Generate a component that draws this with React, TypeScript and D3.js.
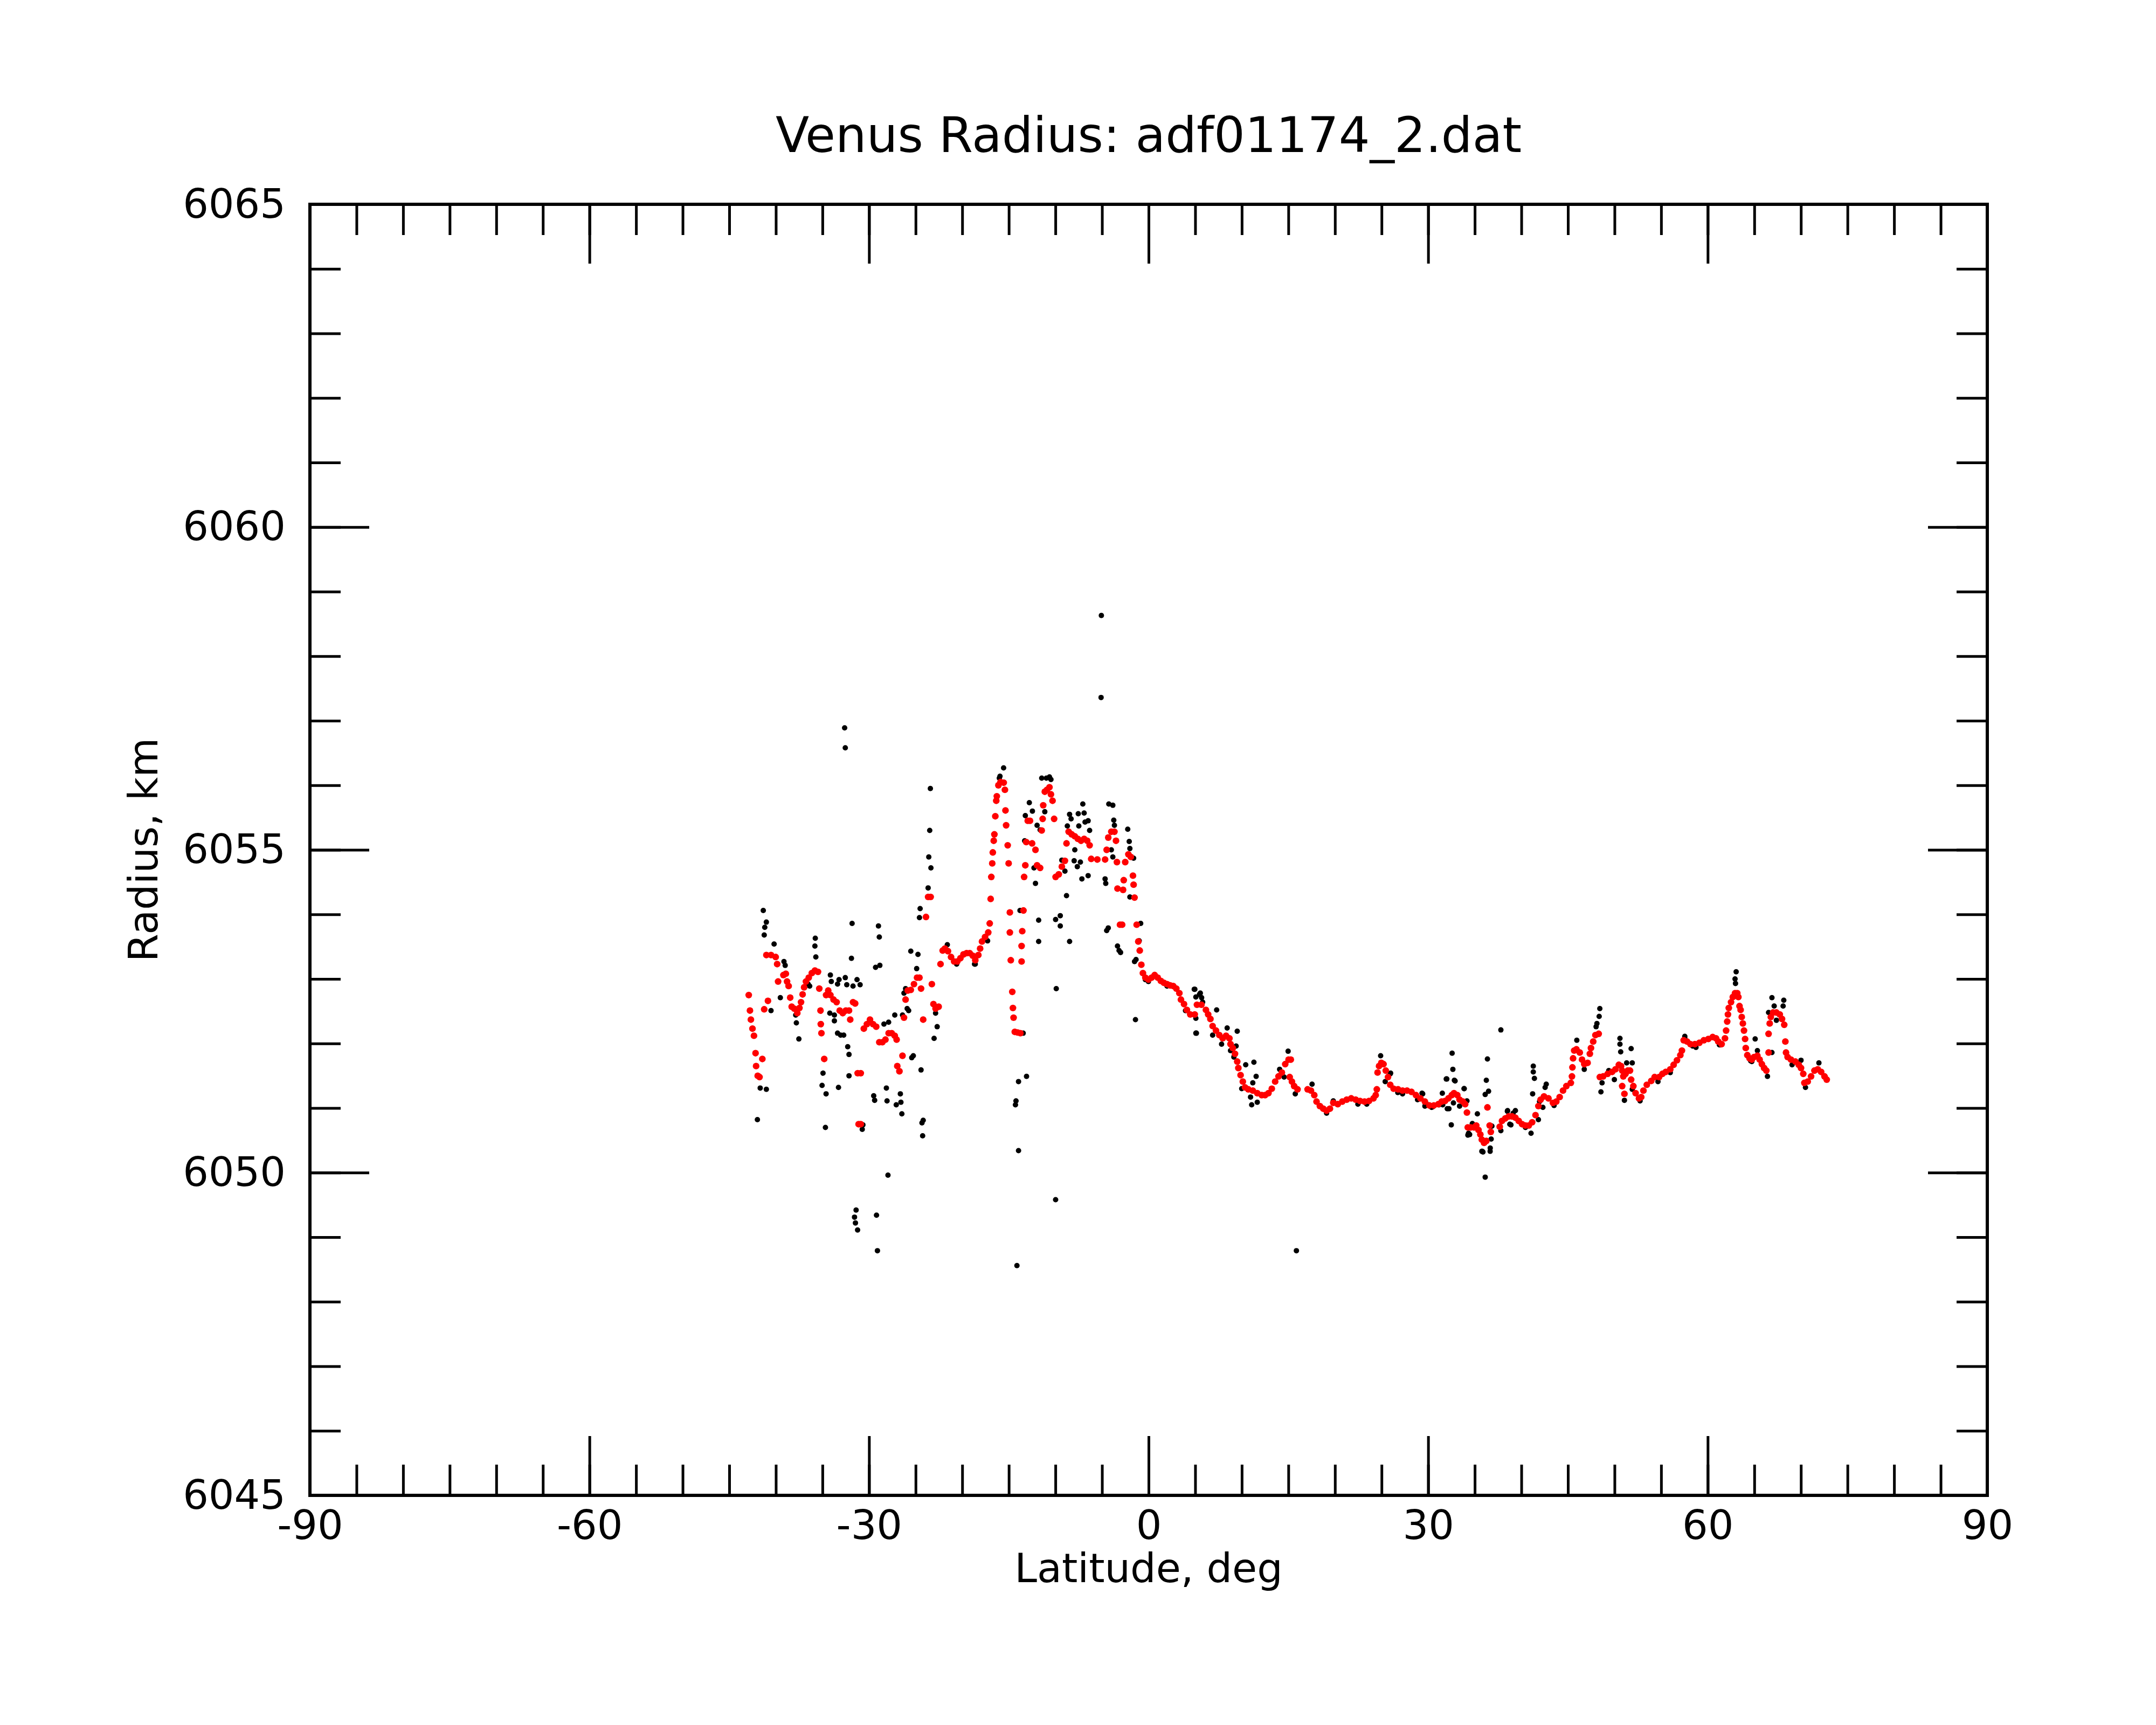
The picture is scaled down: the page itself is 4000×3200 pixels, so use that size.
import { useEffect, useRef } from "react"
import * as d3 from "d3"

// Labels and ticks
const title = "Venus Radius: adf01174_2.dat"
const xLabel = "Latitude, deg"
const yLabel = "Radius, km"
const xMajorTicks = [-90, -60, -30, 0, 30, 60, 90]
const yMajorTicks = [6045, 6050, 6055, 6060, 6065]
const xMinorTicks = d3.range(-90, 91, 5)
const yMinorTicks = d3.range(6045, 6066, 1)

// Smoothed radius (red), [latitude, radius km]
const smoothSouth: [number, number][] = [
  [-42.91, 6052.75], [-42.78, 6052.51], [-42.68, 6052.37], [-42.51, 6052.23], [-42.35, 6052.12],
  [-42.18, 6051.85], [-42.12, 6051.65], [-41.95, 6051.5], [-41.75, 6051.48], [-41.45, 6051.76],
  [-41.25, 6052.53], [-40.85, 6052.66], [-41.02, 6053.37], [-40.52, 6053.37], [-40.02, 6053.34],
  [-39.86, 6053.23], [-39.76, 6052.96], [-39.19, 6053.06], [-38.93, 6053.08], [-38.8, 6052.96],
  [-38.63, 6052.89], [-38.46, 6052.71], [-38.3, 6052.57], [-38.03, 6052.54], [-37.7, 6052.47],
  [-37.47, 6052.55], [-37.3, 6052.64], [-37.13, 6052.76], [-36.97, 6052.87], [-36.77, 6052.96],
  [-36.47, 6053.02], [-36.14, 6053.09], [-35.81, 6053.13], [-35.48, 6053.11], [-35.34, 6052.85],
  [-35.21, 6052.51], [-35.18, 6052.3], [-35.11, 6052.16], [-34.81, 6051.76], [-34.61, 6052.75],
  [-34.38, 6052.82], [-34.15, 6052.75], [-33.81, 6052.68], [-33.48, 6052.64], [-33.15, 6052.51],
  [-32.82, 6052.47], [-32.49, 6052.51], [-32.15, 6052.51], [-32.02, 6052.37], [-31.72, 6052.64],
  [-31.49, 6052.62], [-31.22, 6051.54], [-30.89, 6051.54], [-31.12, 6050.75], [-30.89, 6050.75],
  [-30.56, 6052.23], [-30.23, 6052.3], [-29.9, 6052.37], [-29.57, 6052.3], [-29.23, 6052.26],
  [-28.9, 6052.02], [-28.57, 6052.02], [-28.24, 6052.06], [-27.9, 6052.16], [-27.57, 6052.16],
  [-27.24, 6052.12], [-27.04, 6052.06], [-26.97, 6051.65], [-26.74, 6051.57], [-26.41, 6051.81],
  [-26.25, 6052.4], [-26.08, 6052.68], [-25.85, 6052.82], [-25.52, 6052.83], [-25.18, 6052.92],
  [-24.85, 6053.02], [-24.59, 6053.02], [-24.42, 6052.85], [-24.19, 6052.37], [-23.89, 6053.96],
  [-23.66, 6054.27], [-23.39, 6054.27], [-23.26, 6052.92], [-23.09, 6052.61], [-22.86, 6052.54],
  [-22.53, 6052.57], [-22.33, 6053.23], [-22.1, 6053.44], [-21.86, 6053.47], [-21.53, 6053.43],
  [-21.2, 6053.34], [-20.87, 6053.27], [-20.53, 6053.27], [-20.2, 6053.32], [-19.87, 6053.38],
  [-19.53, 6053.4], [-19.2, 6053.4], [-18.87, 6053.36], [-18.6, 6053.29], [-18.27, 6053.37],
  [-18.08, 6053.47], [-17.88, 6053.58], [-17.55, 6053.65], [-17.21, 6053.72], [-17.05, 6053.86],
]

const smoothEquator: [number, number][] = [
  [-16.95, 6054.24], [-16.88, 6054.58], [-16.78, 6054.79], [-16.72, 6054.96], [-16.62, 6055.14],
  [-16.55, 6055.24], [-16.45, 6055.52], [-16.35, 6055.76], [-16.29, 6055.83], [-16.12, 6056.0],
  [-15.89, 6056.05], [-15.55, 6056.04], [-15.42, 6055.93], [-15.36, 6055.61], [-15.29, 6055.38],
  [-15.12, 6055.07], [-15.02, 6054.79], [-14.89, 6054.03], [-14.89, 6053.72], [-14.79, 6053.29],
  [-14.63, 6052.8], [-14.56, 6052.55], [-14.49, 6052.4], [-14.36, 6052.18], [-14.06, 6052.17],
  [-13.76, 6052.16], [-13.63, 6053.27], [-13.63, 6053.51], [-13.56, 6053.74], [-13.43, 6054.06],
  [-13.36, 6054.58], [-13.23, 6054.76], [-13.13, 6055.12], [-12.97, 6055.45], [-12.73, 6055.45],
  [-12.5, 6055.1], [-12.14, 6055.0], [-11.97, 6054.76], [-11.64, 6054.72], [-11.47, 6055.3],
  [-11.37, 6055.48], [-11.31, 6055.69], [-11.14, 6055.9], [-10.91, 6055.93], [-10.64, 6055.97],
  [-10.48, 6055.86], [-10.31, 6055.76], [-10.14, 6055.48], [-9.98, 6054.58], [-9.64, 6054.62],
  [-9.31, 6054.74], [-8.98, 6054.83], [-8.81, 6055.1], [-8.58, 6055.28], [-8.25, 6055.24],
  [-7.92, 6055.21], [-7.59, 6055.17], [-7.25, 6055.14], [-6.92, 6055.17], [-6.59, 6055.14],
  [-6.33, 6055.07], [-6.16, 6054.86], [-5.5, 6054.85], [-4.67, 6054.85], [-4.5, 6055.0],
  [-4.33, 6055.19], [-4.0, 6055.28], [-3.67, 6055.28], [-3.5, 6055.14], [-3.4, 6054.81],
  [-3.34, 6054.4], [-3.07, 6053.84], [-2.84, 6053.84], [-2.74, 6054.38], [-2.67, 6054.53],
  [-2.51, 6054.81], [-2.17, 6054.93], [-1.91, 6054.89], [-1.68, 6054.6], [-1.61, 6054.46],
  [-1.51, 6054.26], [-1.28, 6053.84], [-1.11, 6053.58], [-0.95, 6053.44], [-0.78, 6053.22],
  [-0.61, 6053.09], [-0.35, 6053.02], [-0.02, 6052.99], [0.32, 6053.02], [0.65, 6053.06],
  [0.98, 6053.02], [1.31, 6052.97], [1.64, 6052.94], [1.98, 6052.92], [2.31, 6052.9],
  [2.64, 6052.89], [2.97, 6052.85], [3.3, 6052.78], [3.47, 6052.68], [3.8, 6052.61],
]

const smoothNorth: [number, number][] = [
  [4.11, 6052.52], [4.47, 6052.45], [4.95, 6052.45], [5.19, 6052.6], [5.67, 6052.6],
  [6.15, 6052.52], [6.39, 6052.45], [6.63, 6052.38], [6.87, 6052.27], [7.23, 6052.2],
  [7.59, 6052.13], [7.95, 6052.08], [8.31, 6052.12], [8.67, 6052.08], [8.79, 6051.99],
  [9.03, 6051.93], [9.27, 6051.84], [9.51, 6051.72], [9.63, 6051.62], [9.87, 6051.51],
  [10.11, 6051.41], [10.35, 6051.32], [10.7, 6051.29], [11.18, 6051.27], [11.66, 6051.23],
  [12.14, 6051.2], [12.5, 6051.2], [12.86, 6051.23], [13.22, 6051.3], [13.58, 6051.41],
  [13.94, 6051.49], [14.3, 6051.55], [14.66, 6051.68], [15.02, 6051.75], [15.26, 6051.75],
  [15.14, 6051.48], [15.38, 6051.41], [15.62, 6051.34], [15.98, 6051.29], [17.06, 6051.29],
  [17.42, 6051.27], [17.78, 6051.2], [18.02, 6051.1], [18.38, 6051.03], [18.74, 6050.99],
  [19.1, 6050.96], [19.46, 6050.99], [19.82, 6051.08], [20.3, 6051.06], [20.78, 6051.1],
  [21.26, 6051.13], [21.74, 6051.15], [22.22, 6051.13], [22.69, 6051.11], [23.17, 6051.1],
  [23.65, 6051.11], [24.13, 6051.15], [24.37, 6051.2], [24.49, 6051.29], [24.57, 6051.55],
  [24.73, 6051.65], [24.97, 6051.7], [25.21, 6051.68], [25.45, 6051.58], [25.69, 6051.48],
  [25.93, 6051.36], [26.29, 6051.3], [26.77, 6051.29], [27.25, 6051.27], [27.73, 6051.27],
  [28.21, 6051.25], [28.69, 6051.2], [29.17, 6051.15], [29.65, 6051.1], [30.13, 6051.04],
  [30.61, 6051.04], [31.09, 6051.06], [31.45, 6051.1], [31.81, 6051.11], [32.17, 6051.15],
  [32.53, 6051.2], [32.77, 6051.23], [33.13, 6051.2], [33.37, 6051.13], [33.73, 6051.1],
  [33.97, 6051.06], [34.16, 6050.93], [34.25, 6050.7], [34.56, 6050.7], [34.92, 6050.7],
  [35.16, 6050.73], [35.4, 6050.66], [35.6, 6050.59], [35.76, 6050.51], [36.0, 6050.46],
  [36.24, 6050.49], [36.36, 6051.01], [36.6, 6050.73], [36.72, 6050.63], [37.68, 6050.71],
  [37.92, 6050.8], [38.28, 6050.84], [38.64, 6050.87], [39.0, 6050.87], [39.36, 6050.85],
  [39.72, 6050.8], [40.08, 6050.75], [40.44, 6050.73], [40.8, 6050.73], [41.16, 6050.78],
  [41.52, 6050.89], [41.83, 6051.03], [42.07, 6051.13], [42.43, 6051.18], [42.91, 6051.15],
  [43.39, 6051.08], [43.75, 6051.1], [44.11, 6051.17], [44.47, 6051.27], [44.83, 6051.34],
  [45.31, 6051.39], [45.43, 6051.49], [45.48, 6051.63], [45.55, 6051.77], [45.67, 6051.89],
  [45.91, 6051.91], [46.27, 6051.86], [46.51, 6051.75], [46.75, 6051.68], [47.11, 6051.7],
  [47.35, 6051.84], [47.47, 6051.93], [47.71, 6052.03], [47.95, 6052.13], [48.3, 6052.15],
  [48.42, 6051.48], [48.78, 6051.49], [49.26, 6051.53], [49.74, 6051.56], [50.1, 6051.6],
  [50.46, 6051.67], [50.7, 6051.65], [50.82, 6051.58], [50.94, 6051.49], [50.82, 6051.34],
  [51.06, 6051.22], [51.18, 6051.53], [51.42, 6051.58], [51.66, 6051.58], [51.78, 6051.44],
  [52.02, 6051.34], [52.26, 6051.23], [52.62, 6051.15], [52.86, 6051.17], [53.1, 6051.27],
  [53.46, 6051.36], [53.94, 6051.42], [54.3, 6051.48], [54.78, 6051.48], [55.14, 6051.53],
  [55.5, 6051.56], [55.98, 6051.6], [56.34, 6051.67], [56.7, 6051.74], [57.06, 6051.82],
  [57.23, 6051.89], [57.42, 6052.05], [57.78, 6052.03], [58.14, 6051.99], [58.62, 6051.99],
  [59.1, 6052.01], [59.58, 6052.05], [60.06, 6052.07], [60.53, 6052.1], [60.89, 6052.08],
  [61.13, 6052.03], [61.49, 6051.99], [61.85, 6052.08], [61.97, 6052.2], [62.09, 6052.34],
  [62.17, 6052.45], [62.26, 6052.55], [62.5, 6052.64], [62.69, 6052.72], [62.93, 6052.78],
  [63.17, 6052.78], [63.29, 6052.72], [63.41, 6052.58], [63.53, 6052.52], [63.65, 6052.41],
  [63.77, 6052.31], [63.89, 6052.2], [64.01, 6052.07], [64.08, 6051.93], [64.25, 6051.82],
  [64.49, 6051.77], [64.73, 6051.75], [64.97, 6051.79], [65.33, 6051.81], [65.57, 6051.75],
  [65.81, 6051.68], [66.05, 6051.62], [66.29, 6051.58], [66.53, 6051.86], [66.53, 6052.15],
  [66.65, 6052.31], [66.77, 6052.41], [67.01, 6052.48], [67.37, 6052.48], [67.73, 6052.45],
  [67.97, 6052.38], [68.21, 6052.29], [68.33, 6052.03], [68.4, 6051.86], [68.57, 6051.79],
  [68.93, 6051.75], [69.41, 6051.72], [69.77, 6051.67], [70.01, 6051.62], [70.25, 6051.53],
  [70.37, 6051.39], [70.73, 6051.41], [71.09, 6051.49], [71.45, 6051.58], [71.81, 6051.6],
  [72.17, 6051.56], [72.53, 6051.49], [72.77, 6051.44],
]

// Raw radius samples (black), [latitude, radius km]
const rawSouth: [number, number][] = [
  [-32.62, 6056.89], [-32.55, 6056.58], [-23.42, 6055.95], [-23.49, 6055.3], [-23.59, 6054.89],
  [-23.36, 6054.72], [-23.66, 6054.41], [-24.52, 6054.09], [-24.59, 6053.95], [-25.52, 6053.43],
  [-24.75, 6053.38], [-41.35, 6054.06], [-41.19, 6053.8], [-41.02, 6053.88], [-41.25, 6053.68],
  [-40.19, 6053.54], [-39.13, 6053.27], [-39.0, 6053.21], [-35.77, 6053.63], [-35.81, 6053.51],
  [-35.71, 6053.34], [-31.82, 6053.86], [-28.99, 6053.82], [-28.9, 6053.65], [-29.3, 6053.18],
  [-28.84, 6053.21], [-31.89, 6053.32], [-34.15, 6053.06], [-32.55, 6053.02], [-33.22, 6052.99],
  [-31.29, 6052.99], [-30.96, 6052.91], [-31.72, 6052.89], [-32.39, 6052.91], [-33.72, 6052.44],
  [-33.72, 6052.35], [-33.05, 6052.13], [-32.72, 6052.13], [-32.29, 6051.95], [-32.15, 6051.83],
  [-32.15, 6051.5], [-33.28, 6051.32], [-34.94, 6051.54], [-35.04, 6051.35], [-34.61, 6051.22],
  [-34.68, 6050.7], [-37.53, 6052.07], [-37.8, 6052.32], [-40.52, 6052.51], [-41.98, 6050.82],
  [-41.68, 6051.31], [-41.02, 6051.29], [-29.5, 6051.19], [-29.4, 6051.12], [-28.14, 6051.31],
  [-28.07, 6051.11], [-26.64, 6051.22], [-26.58, 6051.09], [-27.08, 6051.05], [-26.48, 6050.91],
  [-25.25, 6051.81], [-25.42, 6051.78], [-24.42, 6051.59], [-24.32, 6050.77], [-24.19, 6050.81],
  [-24.25, 6050.57], [-30.66, 6050.74], [-30.73, 6050.67], [-27.97, 6049.96], [-31.39, 6049.42],
  [-31.56, 6049.31], [-31.46, 6049.22], [-31.23, 6049.11], [-29.2, 6049.34], [-29.1, 6048.79],
  [-23.02, 6052.08], [-22.69, 6052.26], [-22.86, 6052.47], [-27.24, 6052.44], [-27.9, 6052.33],
  [-28.4, 6052.3], [-26.08, 6052.85], [-26.25, 6052.78], [-25.91, 6052.54], [-26.41, 6052.44],
  [-24.89, 6053.16], [-25.75, 6052.51], [-36.37, 6052.89], [-34.05, 6052.96], [-33.38, 6052.92],
  [-34.21, 6052.47], [-33.38, 6052.16], [-39.52, 6052.71], [-37.87, 6052.44], [-36.54, 6052.92],
  [-21.6, 6053.44], [-20.6, 6053.23], [-18.6, 6053.23], [-18.68, 6053.23], [-21.6, 6053.53],
  [-17.28, 6053.59],
]

const rawEquator: [number, number][] = [
  [-15.95, 6056.14], [-15.56, 6056.27], [-16.02, 6056.11], [-11.47, 6056.11], [-10.97, 6056.11],
  [-10.64, 6056.13], [-10.48, 6056.09], [-12.8, 6055.73], [-12.47, 6055.6], [-13.23, 6055.53],
  [-11.14, 6055.59], [-11.97, 6055.38], [-11.64, 6055.31], [-8.48, 6055.55], [-8.32, 6055.48],
  [-7.55, 6055.56], [-7.06, 6055.71], [-6.92, 6055.57], [-6.82, 6055.43], [-8.72, 6055.37],
  [-7.49, 6055.37], [-6.49, 6055.45], [-6.33, 6055.3], [-4.27, 6055.71], [-3.84, 6055.69],
  [-3.74, 6055.46], [-3.67, 6055.38], [-2.24, 6055.32], [-2.08, 6055.13], [-2.01, 6055.02],
  [-1.61, 6054.87], [-9.31, 6054.84], [-8.98, 6054.67], [-7.99, 6054.83], [-7.92, 6055.0],
  [-7.65, 6054.74], [-7.32, 6054.81], [-7.16, 6054.55], [-6.49, 6054.6], [-4.67, 6054.55],
  [-4.6, 6054.48], [-4.0, 6055.0], [-3.84, 6054.89], [-4.33, 6053.79], [-4.5, 6053.75],
  [-3.34, 6053.51], [-3.17, 6053.44], [-3.01, 6053.41], [-1.51, 6053.27], [-1.35, 6053.3],
  [-1.01, 6053.59], [-0.85, 6053.86], [-1.41, 6052.37], [-2.01, 6054.27], [-12.3, 6054.72],
  [-12.14, 6054.48], [-13.3, 6055.14], [-13.8, 6054.06], [-11.8, 6053.91], [-11.8, 6053.58],
  [-9.98, 6053.92], [-9.48, 6053.98], [-9.48, 6053.82], [-8.48, 6053.58], [-8.81, 6054.29],
  [-9.91, 6052.85], [-9.98, 6049.58], [-13.46, 6052.16], [-13.96, 6051.41], [-13.1, 6051.49],
  [-14.23, 6051.11], [-14.29, 6051.05], [-13.96, 6050.34], [-14.13, 6048.56], [4.96, 6052.84],
  [5.46, 6052.76], [5.69, 6052.71], [5.13, 6052.16], [5.8, 6052.64], [-5.07, 6058.63],
  [-5.1, 6057.36], [-0.02, 6052.96], [1.98, 6052.89], [3.96, 6052.51], [-0.35, 6052.99],
]

const rawNorth: [number, number][] = [
  [4.9, 6052.84], [5.07, 6052.72], [5.55, 6052.78], [5.07, 6052.16], [7.3, 6052.52],
  [8.43, 6052.24], [9.51, 6052.19], [9.39, 6051.96], [11.3, 6051.71], [10.42, 6051.67],
  [11.54, 6051.49], [11.18, 6051.39], [10.94, 6051.17], [11.06, 6051.05], [11.66, 6051.09],
  [14.97, 6051.88], [15.74, 6051.22], [15.86, 6048.79], [14.06, 6051.6], [17.54, 6051.37],
  [24.9, 6051.81], [25.93, 6051.53], [32.57, 6051.85], [32.65, 6051.6], [32.0, 6051.45],
  [32.89, 6051.42], [31.52, 6051.23], [32.48, 6050.74], [33.85, 6051.3], [37.8, 6052.21],
  [36.36, 6051.76], [36.24, 6051.43], [36.48, 6051.26], [36.12, 6051.21], [35.28, 6050.91],
  [36.12, 6049.93], [35.88, 6050.32], [36.65, 6050.33], [36.84, 6050.72], [34.45, 6050.59],
  [41.28, 6051.65], [41.28, 6051.56], [41.4, 6051.46], [41.21, 6051.22], [41.04, 6050.61],
  [38.52, 6050.96], [37.8, 6050.65], [39.12, 6050.92], [29.41, 6051.22],
  [5.07, 6052.39], [6.87, 6052.13], [7.83, 6051.99], [8.79, 6051.89], [9.15, 6051.79],
  [9.99, 6051.3], [14.54, 6051.48], [19.1, 6050.92], [19.82, 6051.11], [22.46, 6051.06],
  [23.41, 6051.06], [27.25, 6051.22], [29.65, 6051.03], [30.37, 6051.01], [32.05, 6050.99],
  [33.37, 6051.03], [34.33, 6050.61], [35.76, 6050.33], [38.76, 6050.75], [40.44, 6050.7],
  [25.97, 6051.54], [25.39, 6051.41], [26.74, 6051.24], [27.7, 6051.27], [29.34, 6051.23],
  [30.01, 6051.05], [30.5, 6051.02], [31.17, 6051.05], [31.94, 6051.45], [32.81, 6051.43],
  [32.23, 6050.99], [33.87, 6051.3], [34.16, 6051.11], [34.74, 6050.76], [34.26, 6050.58],
  [35.8, 6050.33], [36.66, 6050.38], [36.76, 6050.52], [38.5, 6050.95], [39.36, 6050.96],
  [38.88, 6050.74], [28.86, 6051.13], [31.56, 6051.05], [32.71, 6051.08],
  [63.05, 6053.11], [62.93, 6053.0], [62.98, 6052.93], [48.42, 6052.54], [48.35, 6052.42],
  [48.11, 6052.31], [48.02, 6052.26], [45.95, 6052.05], [50.58, 6052.08], [50.58, 6051.99],
  [50.66, 6051.87], [51.78, 6051.92], [51.9, 6051.7], [51.3, 6051.7], [48.54, 6051.25],
  [48.66, 6051.39], [49.38, 6051.58], [49.98, 6051.44], [51.06, 6051.12], [46.75, 6051.6],
  [42.67, 6051.37], [42.55, 6051.32], [41.83, 6050.82], [42.31, 6051.01], [66.89, 6052.71],
  [68.16, 6052.67], [68.09, 6052.58], [67.13, 6052.58], [66.53, 6052.48], [67.37, 6052.36],
  [65.09, 6052.07], [65.33, 6051.89], [66.41, 6051.49], [66.89, 6051.86], [70.01, 6051.74],
  [71.93, 6051.7], [70.49, 6051.32], [64.61, 6051.73], [58.74, 6051.94], [57.54, 6052.11],
  [61.25, 6051.98], [51.9, 6051.29], [41.95, 6051.1], [43.51, 6051.04], [52.74, 6051.11],
  [54.66, 6051.41], [55.98, 6051.55], [57.54, 6052.08], [58.38, 6051.96], [61.37, 6051.98],
  [64.73, 6051.72], [69.05, 6051.67], [72.53, 6051.48],
]

const WIDTH = 4000
const HEIGHT = 3200

export default function App() {
  const svgRef = useRef<SVGSVGElement>(null)

  useEffect(() => {
    if (!svgRef.current) return

    const svg = d3.select(svgRef.current)
    svg.selectAll("*").remove()

    const x = d3.scaleLinear().domain([-90, 90]).range([575, 3687])
    const y = d3.scaleLinear().domain([6045, 6065]).range([2774, 379])
    const font = "DejaVu Sans"

    svg.append("rect").attr("width", WIDTH).attr("height", HEIGHT).attr("fill", "#fff")

    const styleAxis = (g: d3.Selection<SVGGElement, unknown, null, undefined>) => {
      g.select(".domain").remove()
      g.selectAll("line").attr("stroke", "#000").attr("stroke-width", 5)
      g.selectAll("text")
        .attr("font-family", font)
        .attr("font-size", 75)
        .attr("fill", "#000")
    }
    const noLabel = () => ""
    const label = (d: d3.NumberValue) => String(d)

    // Minor ticks on all four sides, pointing inward
    svg.append("g").attr("transform", `translate(0,${y(6045)})`)
      .call(d3.axisBottom(x).tickValues(xMinorTicks).tickSize(-57).tickFormat(noLabel)).call(styleAxis)
    svg.append("g").attr("transform", `translate(0,${y(6065)})`)
      .call(d3.axisTop(x).tickValues(xMinorTicks).tickSize(-57).tickFormat(noLabel)).call(styleAxis)
    svg.append("g").attr("transform", `translate(${x(-90)},0)`)
      .call(d3.axisLeft(y).tickValues(yMinorTicks).tickSize(-57).tickFormat(noLabel)).call(styleAxis)
    svg.append("g").attr("transform", `translate(${x(90)},0)`)
      .call(d3.axisRight(y).tickValues(yMinorTicks).tickSize(-57).tickFormat(noLabel)).call(styleAxis)

    // Major ticks
    svg.append("g").attr("transform", `translate(0,${y(6045)})`)
      .call(d3.axisBottom(x).tickValues(xMajorTicks).tickSize(-110).tickPadding(28).tickFormat(label)).call(styleAxis)
    svg.append("g").attr("transform", `translate(0,${y(6065)})`)
      .call(d3.axisTop(x).tickValues(xMajorTicks).tickSize(-110).tickFormat(noLabel)).call(styleAxis)
    svg.append("g").attr("transform", `translate(${x(-90)},0)`)
      .call(d3.axisLeft(y).tickValues(yMajorTicks).tickSize(-110).tickPadding(45).tickFormat(label)).call(styleAxis)
    svg.append("g").attr("transform", `translate(${x(90)},0)`)
      .call(d3.axisRight(y).tickValues(yMajorTicks).tickSize(-110).tickFormat(noLabel)).call(styleAxis)

    // Frame
    svg.append("rect")
      .attr("x", x(-90)).attr("y", y(6065))
      .attr("width", x(90) - x(-90)).attr("height", y(6045) - y(6065))
      .attr("fill", "none").attr("stroke", "#000").attr("stroke-width", 6)

    // Raw samples first, smoothed on top
    const raw = [...rawSouth, ...rawEquator, ...rawNorth]
    const smooth = [...smoothSouth, ...smoothEquator, ...smoothNorth]

    svg.append("g").selectAll("circle").data(raw).join("circle")
      .attr("cx", d => x(d[0])).attr("cy", d => y(d[1])).attr("r", 5).attr("fill", "#000")

    svg.append("g").selectAll("circle").data(smooth).join("circle")
      .attr("cx", d => x(d[0])).attr("cy", d => y(d[1])).attr("r", 6.2).attr("fill", "#ff0000")

    // Titles
    const cx = (x(-90) + x(90)) / 2
    svg.append("text")
      .attr("x", cx).attr("y", 282)
      .attr("text-anchor", "middle").attr("font-family", font).attr("font-size", 91)
      .text(title)
    svg.append("text")
      .attr("x", cx).attr("y", 2935)
      .attr("text-anchor", "middle").attr("font-family", font).attr("font-size", 75)
      .text(xLabel)
    svg.append("text")
      .attr("transform", `translate(292,${(y(6045) + y(6065)) / 2}) rotate(-90)`)
      .attr("text-anchor", "middle").attr("font-family", font).attr("font-size", 75)
      .text(yLabel)
  }, [])

  return (
    <svg
      ref={svgRef}
      width={WIDTH}
      height={HEIGHT}
      style={{ position: "absolute", left: 0, top: 0, display: "block" }}
    />
  )
}
